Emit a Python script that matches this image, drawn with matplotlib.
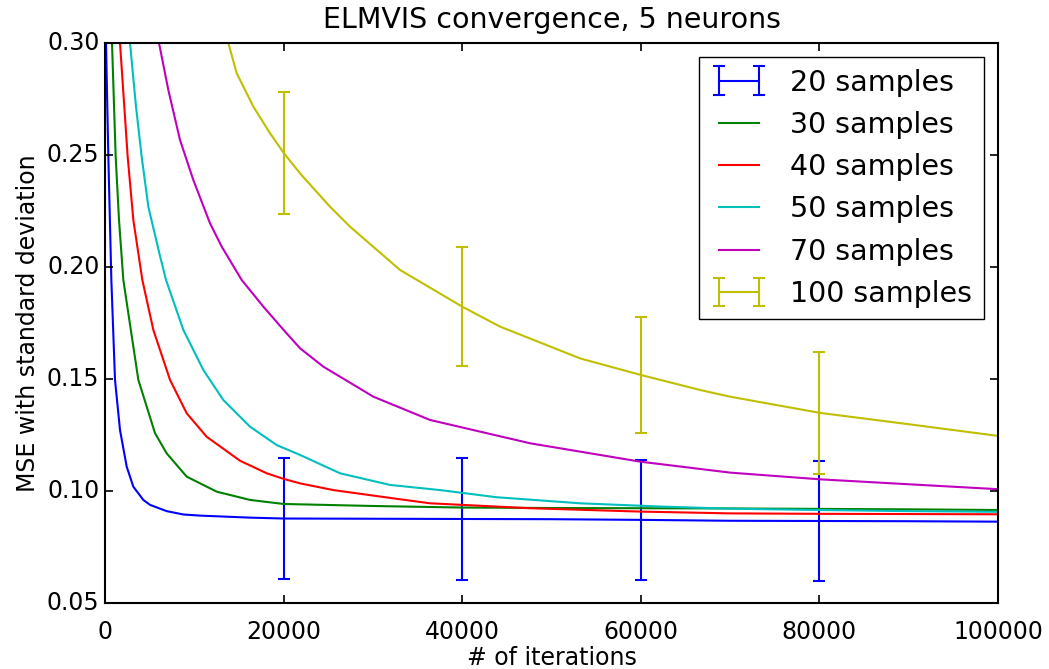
#!/usr/bin/env python3
"""ELMVIS convergence plot, 5 neurons."""
import numpy as np
import matplotlib
matplotlib.use('Agg')
import matplotlib.pyplot as plt

plt.style.use('classic')

# Values
x20 = [60, 112, 373, 710, 1120, 1680, 2427, 3173, 4293, 5040, 6907, 8773,
       10640, 16240, 20000, 30000, 40000, 50000, 60000, 70000, 80000,
       90000, 100000]
y20 = [0.32, 0.300, 0.2492, 0.1942, 0.1496, 0.1272, 0.1109, 0.1019, 0.0960,
       0.0938, 0.0910, 0.0895, 0.0890, 0.0881, 0.0877, 0.0876, 0.0875,
       0.0874, 0.0871, 0.0867, 0.0866, 0.0865, 0.0863]

x30 = [740, 784, 1195, 1568, 2053, 2613, 3733, 5600, 6907, 9147, 12507,
       16240, 20000, 30000, 40000, 50000, 60000, 70000, 80000, 90000, 100000]
y30 = [0.31, 0.300, 0.2492, 0.221, 0.1942, 0.1793, 0.1496, 0.1258, 0.1168,
       0.1064, 0.0997, 0.0960, 0.0942, 0.0933, 0.0926, 0.0924, 0.0923,
       0.0922, 0.0920, 0.0918, 0.0915]

x40 = [1620, 1680, 2539, 3173, 4181, 5413, 7280, 9147, 11387, 15120, 18107,
       20000, 21840, 25570, 33040, 36400, 47600, 59920, 70000, 80000, 90000,
       100000]
y40 = [0.31, 0.300, 0.2492, 0.221, 0.1942, 0.1719, 0.1496, 0.1347, 0.1242,
       0.1135, 0.1079, 0.1054, 0.1034, 0.1004, 0.0963, 0.0945, 0.0923,
       0.0908, 0.0900, 0.0898, 0.0897, 0.0896]

x50 = [2730, 2800, 3472, 4107, 4853, 6085, 6832, 8773, 11013, 13253, 16240,
       19227, 21840, 26320, 31920, 37520, 43870, 53200, 62530, 70000, 80000,
       90000, 100000]
y50 = [0.31, 0.300, 0.2716, 0.2492, 0.2269, 0.2061, 0.1942, 0.1719, 0.1540,
       0.1406, 0.1287, 0.1205, 0.1161, 0.1079, 0.1027, 0.1004, 0.0972,
       0.0945, 0.0930, 0.0921, 0.0915, 0.0910, 0.0907]

x70 = [5980, 6048, 7093, 8400, 9893, 11760, 13067, 15307, 17733, 20000,
       21840, 24450, 30050, 36400, 47600, 59920, 70000, 80080, 90000, 100000]
y70 = [0.31, 0.300, 0.279, 0.2567, 0.2388, 0.2195, 0.2091, 0.1942, 0.1823,
       0.1719, 0.1637, 0.1555, 0.1421, 0.1317, 0.1213, 0.1131, 0.1082,
       0.1052, 0.1030, 0.1008]

x100 = [13600, 13813, 14747, 16613, 18480, 20000, 21840, 25200, 27440, 33030,
        40000, 44230, 53190, 60000, 66630, 70000, 80000, 90000, 100000]
y100 = [0.31, 0.300, 0.2865, 0.2716, 0.2597, 0.2510, 0.2418, 0.2269, 0.2180,
        0.1987, 0.1823, 0.1734, 0.1592, 0.1518, 0.1451, 0.1421, 0.1349,
        0.1298, 0.1246]

# standard deviation, shown every 20000 iterations
err_x = [20000, 40000, 60000, 80000]
err20 = [0.0272, 0.0271, 0.0268, 0.0268]
err100 = [0.0272, 0.0265, 0.0259, 0.0272]


def yerr_for(x, ex, ev):
    yerr = np.zeros(len(x))
    idx = np.searchsorted(x, ex)
    yerr[idx] = ev
    return yerr


fig = plt.figure(figsize=(10.49, 6.69), dpi=100, facecolor='white')
ax = fig.add_axes([0.1001, 0.0987, 0.8513, 0.837])

lw = 1.5
e20 = yerr_for(x20, err_x, err20)
h20 = ax.errorbar(x20, y20, yerr=e20, errorevery=e20 > 0, color='b', lw=lw,
                  elinewidth=lw, capsize=4, capthick=lw, label='20 samples')
h30, = ax.plot(x30, y30, color='g', lw=lw, label='30 samples')
h40, = ax.plot(x40, y40, color='r', lw=lw, label='40 samples')
h50, = ax.plot(x50, y50, color='c', lw=lw, label='50 samples')
h70, = ax.plot(x70, y70, color='m', lw=lw, label='70 samples')
e100 = yerr_for(x100, err_x, err100)
h100 = ax.errorbar(x100, y100, yerr=e100, errorevery=e100 > 0, color='y',
                   lw=lw, elinewidth=lw, capsize=4, capthick=lw,
                   label='100 samples')

ax.set_xlim(0, 100000)
ax.set_ylim(0.05, 0.30)
ax.set_xticks([0, 20000, 40000, 60000, 80000, 100000])
ax.set_yticks([0.05, 0.10, 0.15, 0.20, 0.25, 0.30])
ax.tick_params(labelsize=17, length=6, width=1.2)
ax.tick_params(axis='x', pad=12)
for s in ax.spines.values():
    s.set_linewidth(1.5)

ax.set_title('ELMVIS convergence, 5 neurons', fontsize=20.5, pad=11)
ax.set_xlabel('# of iterations', fontsize=17, labelpad=2)
ax.set_ylabel('MSE with standard deviation', fontsize=17)
ax.legend(handles=[h20, h30, h40, h50, h70, h100], loc='upper right',
          numpoints=2, fontsize=20.5, fancybox=False)

plt.savefig('out.png', dpi=100, facecolor='white')
print("Generated: out.png")
